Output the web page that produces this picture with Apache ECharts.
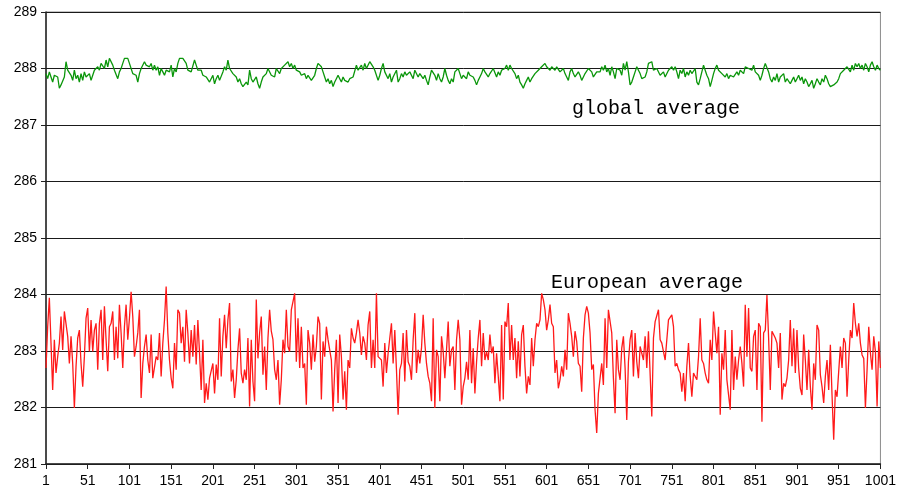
<!DOCTYPE html>
<html>
<head>
<meta charset="utf-8">
<script src="https://cdn.jsdelivr.net/npm/echarts@6/dist/echarts.min.js"></script>
<style>html,body{margin:0;padding:0;background:#fff;}#c{width:899px;height:496px;}</style>
</head>
<body>
<div id="c"></div>
<script>
// Steps shown on the x axis (every second step, 1..1001)
const categories = [];
for (let s = 1; s <= 1001; s += 2) categories.push(String(s));

const yTicks = [281, 282, 283, 284, 285, 286, 287, 288, 289];

// European average (red)
const redPart1 = [282.70,283.43,283.94,283.14,282.31,283.20,282.61,282.90,283.14,283.61,283.02,283.70,283.73,283.26,282.78,283.26,282.78,281.99,282.73,283.23,283.37,282.78,282.37,282.90,283.58,283.76,282.99,283.55,282.99,283.37,283.49,282.67,283.49,283.73,282.84,283.79,283.20,282.64,283.43,283.49,283.70,282.84,283.43,282.87,283.82,283.32,282.70,283.43,283.82,283.20,283.58,284.05,283.61,282.90,283.08,283.32,283.73,282.17,282.78,283.08,283.29,282.84,282.61,283.29,282.52,282.55,282.90,282.84,283.32,282.55,283.14,283.55,284.14,283.32,282.84,282.52,282.34,283.14,282.67,283.73,283.67,283.14,283.43];
const redPart2 = [282.81,283.73,283.32,282.78,283.37,282.90,283.46,282.76,283.55,282.96,282.31,283.20,282.08,282.43,282.14,282.52,282.49,282.78,282.25,282.76,282.49,283.58,282.55,283.26,283.64,283.05,283.55,283.85,282.46,282.67,282.17,282.49,283.02,283.40,282.61,282.43,282.67,282.49,283.23,282.02,283.20,282.46,282.11,283.91,282.87,283.32,283.61,282.58,283.08,282.31,283.23,283.73,283.35,283.20,282.67,282.49,282.84,282.05,282.49,283.20,282.96,283.73,283.08,282.99,283.73,283.70,284.02,282.81,283.58,282.70,283.43,282.70,282.78,282.05,283.37,283.14,282.67,283.29,282.81,283.08,283.61,283.49,282.14,283.17];
const redPart3 = [282.90,283.43,283.20,283.20,282.84,281.93,282.67,283.20,282.08,283.29,282.90,282.14,282.64,281.96,282.84,282.70,283.40,283.23,283.14,283.32,283.55,283.32,282.93,283.26,283.14,282.84,283.46,283.70,282.70,283.20,282.70,284.02,282.90,282.87,282.84,282.37,283.14,282.61,282.96,283.23,283.49,282.78,283.37,282.67,281.87,282.67,282.78,283.32,282.46,283.37,282.81,282.73,282.49,283.20,283.67,282.61,283.02,282.78,283.05,283.64,283.14,282.78,282.55,282.43,282.11,283.58,281.99,283.02,282.90,282.11,283.26,282.99,282.52,282.52,283.52,282.73,283.02,283.08,282.31,283.20,283.55,283.20,282.05];
const redPart4 = [282.37,282.52,282.81,282.49,283.37,282.43,283.05,282.25,282.81,283.23,283.55,282.73,283.32,282.84,282.99,282.84,283.29,282.96,283.08,282.43,282.96,282.55,282.11,283.46,282.14,283.52,283.43,283.85,282.84,283.46,282.84,283.23,282.52,283.17,282.55,283.29,283.46,282.73,282.25,282.55,282.40,283.23,282.73,283.20,283.49,283.43,283.55,284.02,283.91,283.73,283.37,283.55,283.82,283.49,283.43,282.61,282.84,282.34,282.49,282.73,282.55,283.02,282.67,283.67,283.49,283.26,282.90,283.35,283.17,282.78,282.73,282.28,283.23,283.64,283.79,283.67,283.32,282.67,282.76,281.96,281.55,282.25,282.25,282.78];
const redPart5 = [282.40,283.58,282.70,283.73,283.76,283.32,282.52,281.90,283.20,282.67,282.49,283.05,283.26,282.70,281.78,282.81,283.20,283.37,282.55,283.32,282.81,282.52,283.08,282.96,282.84,283.26,282.70,283.35,283.32,281.84,283.23,283.52,283.49,283.73,283.20,283.14,283.14,282.84,283.20,283.55,283.58,283.64,283.43,282.73,282.78,282.67,282.61,282.28,282.61,282.11,282.73,283.14,282.55,282.19,282.61,282.55,282.49,282.90,283.58,282.84,282.78,282.61,282.49,282.43,283.20,282.84,283.70,283.32,282.96,283.43,281.87,282.96,282.67,283.37,282.49,282.46,281.96,283.37,282.31,282.90,282.49,282.84,283.08];
const redPart6 = [282.78,282.37,283.82,282.90,283.76,282.70,282.64,283.26,283.37,282.31,283.49,283.43,281.75,283.32,283.37,283.99,283.23,282.31,283.35,283.32,283.23,283.14,282.70,283.32,282.14,282.43,282.37,282.52,282.84,283.55,282.73,283.40,282.61,283.37,282.70,282.34,282.22,283.29,282.84,282.31,283.02,282.37,281.96,282.78,282.49,283.46,283.37,282.58,282.37,282.08,282.55,282.84,282.31,283.11,282.22,281.43,282.31,282.19,282.64,283.08,282.70,283.23,283.14,282.19,282.84,283.37,283.23,283.85,283.49,283.26,283.49,283.14,282.93,282.87,281.99,282.67,283.43,282.96,282.67,283.26,282.99,282.02,283.17,282.70];

// Global average (green)
const greenPart1 = [287.91,287.82,287.94,287.85,287.76,287.88,287.91,287.85,287.65,287.71,287.68,287.85,288.12,287.97,287.94,287.88,287.79,287.97,287.82,287.88,287.76,287.91,287.79,287.94,287.85,287.82,287.91,287.79,287.88,287.97,287.94,288.03,287.97,288.09,288.06,288.00,288.15,288.03,288.18,288.21,288.06,287.97,287.94,287.82,287.94,288.00,288.09,288.18,288.15,288.18,288.09,288.00,287.91,287.94,287.88,287.76,287.91,288.00,287.97,288.12,288.06,288.09,288.03,288.09,287.97,288.06,287.97,288.03,287.88,288.00,287.94,287.88,287.97,288.00,287.94,288.06,287.85,288.00,287.94,288.09,288.18,288.21,288.18,288.15,288.09,287.97,288.00,287.94,287.97,288.15,288.06,287.97,288.00,287.97,287.88,287.85,287.85,287.82,287.76,287.79,287.88,287.73,287.82,287.88,287.79,287.76,287.94,288.03,287.97,288.15,288.00,287.97,287.91,287.94,287.85,287.76,287.82,287.73,287.68,287.65,287.76,287.71,287.97,287.82,287.76,287.79,287.85,287.73,287.65,287.76,287.85,287.88,287.91,288.00,287.97,287.88,287.91,287.85,288.00,287.97,287.91,288.00,287.97,288.06,288.09,288.12,288.03,288.09,288.00,288.06,287.97,288.00,287.94,287.88,287.85,287.91,287.82,287.88,287.85,287.79,287.76,287.88,288.00,288.09,288.12,288.03,287.94];
const greenPart2 = [287.85,287.76,287.82,287.73,287.79,287.68,287.76,287.82,287.88,287.82,287.76,287.85,287.79,287.82,287.76,287.82,287.79,287.85,287.82,288.06,287.97,288.00,288.06,287.97,288.09,288.00,288.03,288.12,288.15,288.03,287.97,287.94,287.79,287.88,288.00,288.09,287.94,287.91,287.82,287.91,287.76,287.85,287.88,287.97,287.76,287.82,287.91,287.85,287.94,287.88,287.85,287.94,287.91,287.82,287.97,287.94,287.85,287.91,287.88,287.82,287.88,287.79,287.71,287.85,287.97,288.00,287.88,287.79,287.91,287.82,287.76,287.85,288.00,287.88,287.79,287.73,287.82,287.76,287.94,287.97,288.00,287.91,287.82,287.88,287.85,287.82,287.94,287.88,287.91,287.85,287.79,287.71,287.79,287.85,287.91,288.00,287.94,287.97,287.85,287.91,287.88,288.00,287.97,287.85,287.94,287.88,287.97,287.94,288.00,288.06,287.97,288.06,288.00,288.03,287.91,287.82,287.88,287.76,287.71,287.65,287.73,287.79,287.85,287.76,287.82,287.85,287.91,287.94,287.97,288.00,288.03,288.06,288.09,288.03,288.06,287.97,288.03,288.00,287.97,288.03,288.00,287.94,287.97,288.00,287.91,287.85,287.79,287.94,288.00,287.91,287.85,287.82,287.94,287.88,287.79,287.85,287.91,287.94,288.00,287.97,287.94,287.85,287.82,287.94,287.97,287.94,288.03];
const greenPart3 = [287.97,288.06,287.94,288.00,287.88,288.03,287.94,287.82,288.00,288.03,287.97,287.88,288.09,287.97,288.12,287.94,287.71,287.76,287.85,287.94,288.03,287.97,287.91,287.82,287.79,287.85,287.94,288.09,288.06,288.12,287.97,287.94,288.00,287.97,287.88,287.91,287.94,287.85,287.88,287.97,288.00,288.03,287.97,288.03,287.94,287.82,287.97,287.91,288.00,287.85,287.94,287.88,287.97,287.91,287.88,288.00,287.76,287.71,287.82,287.85,288.06,287.97,287.88,287.82,287.68,287.79,287.91,288.00,288.06,287.97,288.00,287.91,287.94,287.85,287.91,287.82,287.88,287.91,287.85,287.82,287.94,287.88,287.97,288.00,287.91,288.03,288.06,288.00,288.03,287.97,288.06,287.94,287.97,287.88,287.79,287.88,288.00,288.09,288.06,287.94,287.82,287.76,287.85,287.79,287.91,287.76,287.85,287.82,287.91,287.76,287.82,287.85,287.73,287.79,287.85,287.76,287.82,287.88,287.79,287.85,287.73,287.82,287.76,287.68,287.73,287.79,287.65,287.73,287.82,287.76,287.71,287.82,287.76,287.88,287.82,287.73,287.68,287.65,287.71,287.68,287.76,287.82,287.91,287.88,287.97,287.94,288.03,288.00,287.94,288.06,287.97,288.09,288.03,288.09,288.00,288.06,287.97,288.09,288.03,287.94,288.06,288.12,288.03,287.97,288.06,288.00,287.97];

const redValues = redPart1.concat(redPart2, redPart3, redPart4, redPart5, redPart6);
const greenValues = greenPart1.concat(greenPart2, greenPart3);

const chart = echarts.init(document.getElementById('c'), null, {renderer: 'canvas'});
chart.setOption({
  animation: false,
  backgroundColor: '#ffffff',
  grid: {left: 46, right: 14, top: 12, bottom: 32, show: true, borderColor: '#8a8a8a', borderWidth: 1, backgroundColor: 'transparent'},
  xAxis: {
    type: 'category',
    data: categories,
    boundaryGap: false,
    axisLine: {lineStyle: {color: '#222', width: 1.5}},
    axisTick: {show: true, interval: 24, length: 5, inside: false, lineStyle: {color: '#222'}},
    axisLabel: {interval: 24, color: '#000', fontFamily: 'Liberation Sans, Arial, sans-serif', fontSize: 14, margin: 10},
    splitLine: {show: false}
  },
  yAxis: {
    type: 'value',
    min: yTicks[0],
    max: yTicks[yTicks.length - 1],
    interval: 1,
    axisLine: {show: true, lineStyle: {color: '#222', width: 1.5}},
    axisTick: {show: true, length: 5, lineStyle: {color: '#222'}},
    axisLabel: {color: '#000', fontFamily: 'Liberation Sans, Arial, sans-serif', fontSize: 14, margin: 9},
    splitLine: {show: true, lineStyle: {color: '#1a1a1a', width: 1}}
  },
  series: [
    {type: 'line', name: 'global average', data: greenValues, showSymbol: false, symbol: 'none', lineStyle: {color: '#0a960a', width: 1.3}, z: 3},
    {type: 'line', name: 'European average', data: redValues, showSymbol: false, symbol: 'none', lineStyle: {color: '#ff1a1a', width: 1.3}, z: 3}
  ],
  graphic: [
    {type: 'text', left: 572, top: 99, style: {text: 'global average', font: '20px "Liberation Mono", "Courier New", monospace', fill: '#000'}},
    {type: 'text', left: 551, top: 273, style: {text: 'European average', font: '20px "Liberation Mono", "Courier New", monospace', fill: '#000'}}
  ]
});
</script>
</body>
</html>
